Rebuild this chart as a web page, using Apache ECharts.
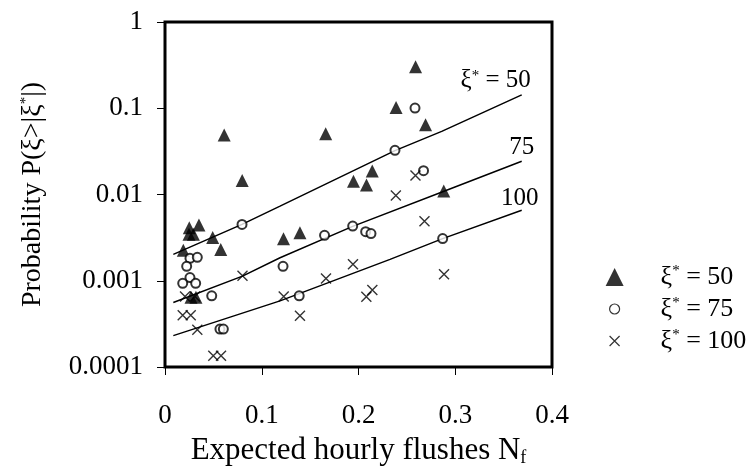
<!DOCTYPE html>
<html>
<head>
<meta charset="utf-8">
<script src="https://cdn.jsdelivr.net/npm/echarts@6/dist/echarts.min.js"></script>
<style>
html, body { margin: 0; padding: 0; background: #fff; }
#main { width: 747px; height: 472px; }
</style>
</head>
<body>
<div id="main"></div>
<script>
// [expected hourly flushes, probability]
var tri50 = [
  [0.259, 0.302], [0.2388, 0.102], [0.2693, 0.0645], [0.0612, 0.0488],
  [0.1661, 0.0507], [0.0798, 0.0145], [0.2142, 0.0187], [0.1948, 0.01425],
  [0.2083, 0.0129], [0.2881, 0.01097], [0.0351, 0.00442], [0.0251, 0.00412],
  [0.0248, 0.00345], [0.0293, 0.00345], [0.0493, 0.00318], [0.0576, 0.00231],
  [0.0189, 0.00225], [0.1225, 0.00306], [0.1395, 0.00361], [0.0269, 0.000645],
  [0.032, 0.000645]
];
var circ75 = [
  [0.2584, 0.1005], [0.2377, 0.0325], [0.2672, 0.0189], [0.0796, 0.0045],
  [0.194, 0.0043], [0.2074, 0.00371], [0.2129, 0.00352], [0.1649, 0.00336],
  [0.287, 0.00308], [0.0258, 0.00182], [0.0334, 0.00187], [0.0224, 0.00147],
  [0.0258, 0.00109], [0.0183, 0.000935], [0.0317, 0.000935], [0.0483, 0.000668],
  [0.122, 0.00147], [0.1387, 0.000668], [0.0568, 0.000275], [0.0603, 0.000275]
];
var cross100 = [
  [0.2589, 0.0166], [0.2386, 0.00974], [0.2682, 0.00491], [0.2884, 0.00119],
  [0.0801, 0.00114], [0.1943, 0.00155], [0.1664, 0.00106], [0.1227, 0.000657],
  [0.1395, 0.000394], [0.2081, 0.000653], [0.2143, 0.000783], [0.0207, 0.000657],
  [0.031, 0.000657], [0.0183, 0.000399], [0.0266, 0.000399], [0.0334, 0.00027],
  [0.0499, 0.000135], [0.0579, 0.000135]
];
// fitted curves
var fit50 = [[0.0086, 0.00202], [0.0796, 0.0045], [0.1189, 0.00732], [0.2377, 0.0323], [0.286, 0.0539], [0.3687, 0.143]];
var fit75 = [[0.0086, 0.00056], [0.0801, 0.00113], [0.1189, 0.00185], [0.194, 0.00427], [0.2877, 0.01083], [0.3687, 0.0243]];
var fit100 = [[0.0086, 0.000231], [0.1189, 0.000584], [0.2326, 0.00177], [0.287, 0.00308], [0.3687, 0.00658]];

var names = ['ξ* = 50', 'ξ* = 75', 'ξ* = 100'];
var curveLabels = ['ξ{s|*} = 50', '75', '100'];
var labelShift = [[-26, -14], [0, -14], [-2, -12]];

var serif = '"Liberation Serif", "Times New Roman", serif';
var sup = { fontSize: 15, fontFamily: serif, color: '#000', verticalAlign: 'top', lineHeight: 20 };

function fitLine(data, i) {
  return {
    type: 'line',
    data: data,
    symbol: 'none',
    silent: true,
    lineStyle: { color: '#000', width: 1.5 },
    z: 1,
    markPoint: {
      symbol: 'circle',
      symbolSize: 1,
      itemStyle: { color: 'rgba(0,0,0,0)' },
      silent: true,
      label: {
        show: true,
        position: 'inside',
        offset: labelShift[i],
        formatter: curveLabels[i],
        fontFamily: serif,
        fontSize: 25,
        color: '#000',
        rich: { s: sup }
      },
      data: [{ coord: data[data.length - 1] }]
    }
  };
}

var myChart = echarts.init(document.getElementById('main'));
var option = {
  backgroundColor: '#fff',
  animation: false,
  grid: {
    left: 165, right: 195, top: 22, bottom: 104,
    show: true, borderColor: '#000', borderWidth: 3
  },
  legend: {
    data: [
      { name: names[0] },
      {
        name: names[1],
        icon: 'path://M0,0M18,18M4,9A5,5,0,1,1,14,9A5,5,0,1,1,4,9Z',
        itemStyle: { color: '#fff', borderColor: '#000', borderWidth: 1.2 }
      },
      {
        name: names[2],
        icon: 'path://M0,0M18,18M4,4L14,14M14,4L4,14',
        itemStyle: { color: 'rgba(0,0,0,0)', borderColor: '#000', borderWidth: 1.2 }
      }
    ],
    orient: 'vertical',
    left: 600,
    top: 259,
    itemWidth: 18,
    itemHeight: 18,
    itemGap: 6,
    formatter: function (n) { return n.replace('*', '{s|*}'); },
    textStyle: {
      fontFamily: serif, fontSize: 26, color: '#000',
      padding: [0, 0, 0, 32],
      rich: { s: sup }
    }
  },
  xAxis: {
    type: 'value',
    min: 0, max: 0.4, interval: 0.1,
    name: 'Expected hourly flushes N{sub|f}',
    nameLocation: 'middle',
    nameGap: 68,
    nameTextStyle: {
      fontFamily: serif, fontSize: 31, color: '#000',
      rich: { sub: { fontSize: 18, fontFamily: serif, color: '#000', verticalAlign: 'bottom', lineHeight: 32 } }
    },
    axisLine: { show: false },
    axisTick: { show: true, inside: false, length: 8, lineStyle: { color: '#000', width: 1 } },
    splitLine: { show: false },
    axisLabel: { fontFamily: serif, fontSize: 27, color: '#000', margin: 35 }
  },
  yAxis: {
    type: 'log',
    logBase: 10,
    min: 0.0001, max: 1,
    name: 'Probability P(ξ>|ξ{s|*}|)',
    nameLocation: 'middle',
    nameGap: 118,
    nameTextStyle: {
      fontFamily: serif, fontSize: 28, color: '#000',
      rich: { s: sup }
    },
    axisLine: { show: false },
    axisTick: { show: true, inside: false, length: 8, lineStyle: { color: '#000', width: 1 } },
    splitLine: { show: false },
    minorTick: { show: false },
    axisLabel: {
      fontFamily: serif, fontSize: 27, color: '#000', margin: 22,
      formatter: function (v) { return String(+v.toPrecision(1)); }
    }
  },
  series: [
    fitLine(fit50, 0),
    fitLine(fit75, 1),
    fitLine(fit100, 2),
    {
      name: names[0], type: 'scatter', data: tri50,
      symbol: 'triangle', symbolSize: 13,
      itemStyle: { color: '#000' }, z: 3
    },
    {
      name: names[1], type: 'scatter', data: circ75,
      symbol: 'emptyCircle', symbolSize: 9,
      itemStyle: { color: '#000', borderWidth: 1.4 }, z: 3
    },
    {
      name: names[2], type: 'scatter', data: cross100,
      symbol: 'path://M0,0L10,10M10,0L0,10', symbolSize: 10,
      itemStyle: { color: 'rgba(0,0,0,0)', borderColor: '#000', borderWidth: 1.4 }, z: 3
    }
  ]
};
myChart.setOption(option);
</script>
</body>
</html>
